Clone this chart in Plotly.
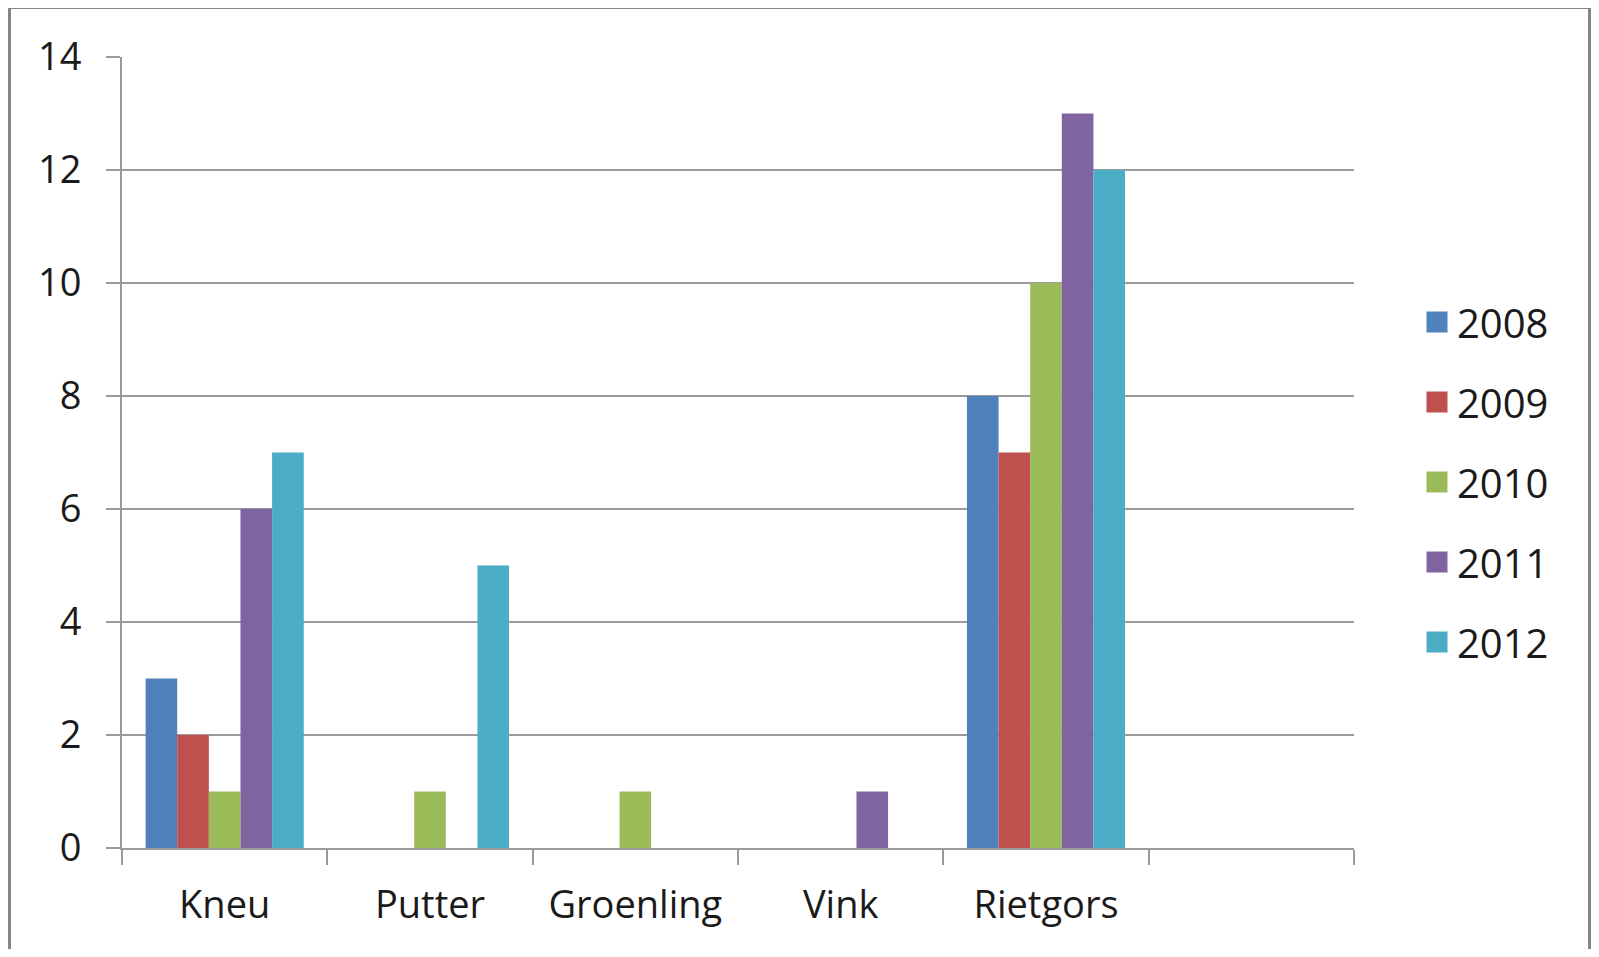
import plotly.graph_objects as go

categories = ["Kneu", "Putter", "Groenling", "Vink", "Rietgors", " "]
years = ["2008", "2009", "2010", "2011", "2012"]
v2008 = [3, None, None, None, 8, None]
v2009 = [2, None, None, None, 7, None]
v2010 = [1, 1, 1, None, 10, None]
v2011 = [6, None, None, 1, 13, None]
v2012 = [7, 5, None, None, 12, None]
series = [v2008, v2009, v2010, v2011, v2012]
colors = ["#4F81BD", "#C0504D", "#9BBB59", "#8064A2", "#4BACC6"]

# page body has an 8px margin; positions below are screen pixels
OFF = 8
W, H = 1599 - 2 * OFF, 957 - 2 * OFF
L, T = 122 - OFF, 57 - OFF
R = W - (1354 - OFF)
B = H - (848 - OFF)
pw, ph = W - L - R, H - T - B


def px_x(p):
    return (p - OFF - L) / pw


def px_y(p):
    return (H - B - (p - OFF)) / ph


fig = go.Figure()
for name, vals, col in zip(years, series, colors):
    fig.add_trace(go.Bar(x=categories, y=vals, name=name, marker_color=col,
                         marker_line_width=0, showlegend=False))
    # legend entry with a larger square
    fig.add_trace(go.Scatter(x=[None], y=[None], mode="markers", name=name,
                             legendgroup=name,
                             marker=dict(symbol="square", size=16, color=col,
                                         line=dict(color=col, width=5))))

grid = "#9a9a9a"
frame = "#858585"
fig.update_layout(
    width=W, height=H,
    margin=dict(l=L, r=R, t=T, b=B, autoexpand=False),
    paper_bgcolor="white", plot_bgcolor="white",
    barmode="group", bargap=0.23, bargroupgap=0,
    font=dict(family="Open Sans", size=38, color="#1a1a1a"),
    xaxis=dict(categoryorder="array", categoryarray=categories,
               range=[-0.5, 5.5], tickson="boundaries", ticks="outside",
               ticklen=15, tickwidth=2, tickcolor=grid, automargin=False,
               showline=True, linecolor=grid, linewidth=2,
               showgrid=False, ticklabelstandoff=22, fixedrange=True),
    yaxis=dict(range=[0, 14], dtick=2, ticks="outside", ticklen=14,
               tickwidth=2, tickcolor=grid, showline=True, linecolor=grid,
               linewidth=2, showgrid=True, gridcolor=grid, gridwidth=2,
               automargin=False, zeroline=False, ticklabelstandoff=17,
               fixedrange=True),
    legend=dict(x=px_x(1417), xanchor="left", y=px_y(482), yanchor="middle",
                traceorder="grouped", tracegroupgap=25,
                font=dict(size=40), bgcolor="rgba(0,0,0,0)"),
    shapes=[
        dict(type="line", xref="paper", yref="paper", x0=px_x(9), x1=px_x(1592),
             y0=px_y(8), y1=px_y(8), line=dict(color=frame, width=2)),
        dict(type="line", xref="paper", yref="paper", x0=px_x(9), x1=px_x(9),
             y0=px_y(7), y1=px_y(1000), line=dict(color=frame, width=4)),
        dict(type="line", xref="paper", yref="paper", x0=px_x(1589.5), x1=px_x(1589.5),
             y0=px_y(7), y1=px_y(1000), line=dict(color=frame, width=3)),
    ],
)

fig.write_html("out.html")
